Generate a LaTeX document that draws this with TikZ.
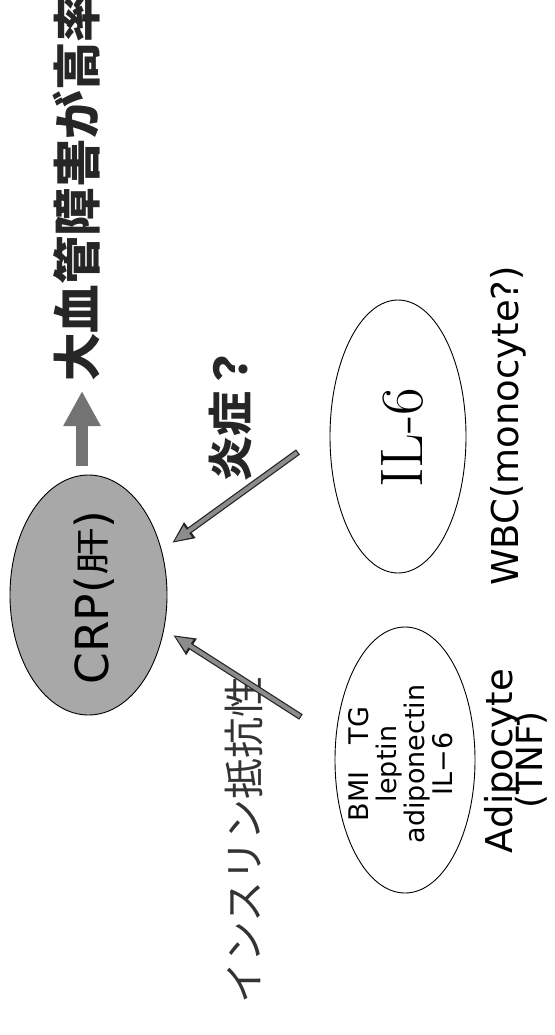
\documentclass[tikz,border=0pt]{standalone}
\usepackage{fontspec}
\usepackage{graphicx}
\setmainfont{DejaVu Sans}
\newfontfamily\cjk{Noto Sans CJK JP}
\newfontfamily\lmr{Latin Modern Roman}
\usetikzlibrary{arrows.meta,shapes.geometric}
\definecolor{crpfill}{gray}{0.66}
\definecolor{bigarrow}{gray}{0.45}
\definecolor{diagfill}{gray}{0.55}
\begin{document}
\begin{tikzpicture}[x=1pt,y=-1pt,
  ell/.style={draw=black, line width=0.9pt, ellipse, inner sep=0pt},
  rtext/.style={rotate=90, inner sep=0pt},
  bigarr/.style={line width=12pt, draw=bigarrow, -{Triangle[length=35pt,width=35pt]}},
  diagout/.style={line width=6.5pt, draw=black!85, -{Triangle[length=22pt,width=18pt]}},
  diagin/.style={line width=4pt, draw=diagfill, shorten <=1.2pt, shorten >=2.6pt, -{Triangle[length=17pt,width=13pt]}}]
\useasboundingbox (0,0) rectangle (554,1035);

% ellipses
\node[ell, fill=crpfill, minimum width=157pt, minimum height=240pt] (crp) at (88.5,595) {};
\node[ell, minimum width=136pt, minimum height=273pt] (il6) at (398,436.5) {};
\node[ell, minimum width=140pt, minimum height=266pt] (adipo) at (405,760) {};

% texts
\node[rtext, anchor=base, font={\fontsize{45.5}{50}\selectfont}] (crptext) at (108,597.5)
  {CRP(\raisebox{3pt}{\scalebox{1.05}[0.75]{\cjk 肝}})};
\node[rtext, anchor=base west, text=black!85, font={\cjk\bfseries\fontsize{48.5}{50}\selectfont}] (title) at (95.6,382)
  {大血管障害が高率};
\node[rtext, anchor=base west, text=black!85, font={\cjk\bfseries\fontsize{45}{50}\selectfont}] (inflam) at (247,482)
  {炎症？};
\node[rtext, anchor=base west, text=black!80, font={\cjk\fontsize{41}{45}\selectfont}] (insulin) at (259,1004)
  {インスリン抵抗性};
\node[rtext, anchor=base, font={\lmr\fontsize{60}{66}\selectfont}] (il6text) at (422,438) {IL-6};
\node[rtext, anchor=base, font={\fontsize{37}{40}\selectfont}] (wbc) at (518,426) {WBC(monocyte?)};
\node[rtext, anchor=center, align=center, font={\fontsize{27}{28}\selectfont}] (adipotext) at (400.5,764)
  {BMI\hspace{1em}TG\\leptin\\adiponectin\\IL−6};
\node[rtext, anchor=base, font={\fontsize{37}{40}\selectfont}] (adipocyte) at (512,761) {Adipocyte};
\node[rtext, anchor=base, font={\fontsize{36}{40}\selectfont}] (tnf) at (542,760) {(TNF)};

% arrows
\coordinate (bigS) at (82,466);
\coordinate (bigE) at (82,391);
\draw[bigarr] (bigS) -- (bigE);

\coordinate (upS) at (298,452);
\coordinate (upE) at (172,543);
\draw[diagout] (upS) -- (upE);
\draw[diagin] (upS) -- (upE);

\coordinate (loS) at (301,717);
\coordinate (loE) at (173,635);
\draw[diagout] (loS) -- (loE);
\draw[diagin] (loS) -- (loE);
\end{tikzpicture}
\end{document}
